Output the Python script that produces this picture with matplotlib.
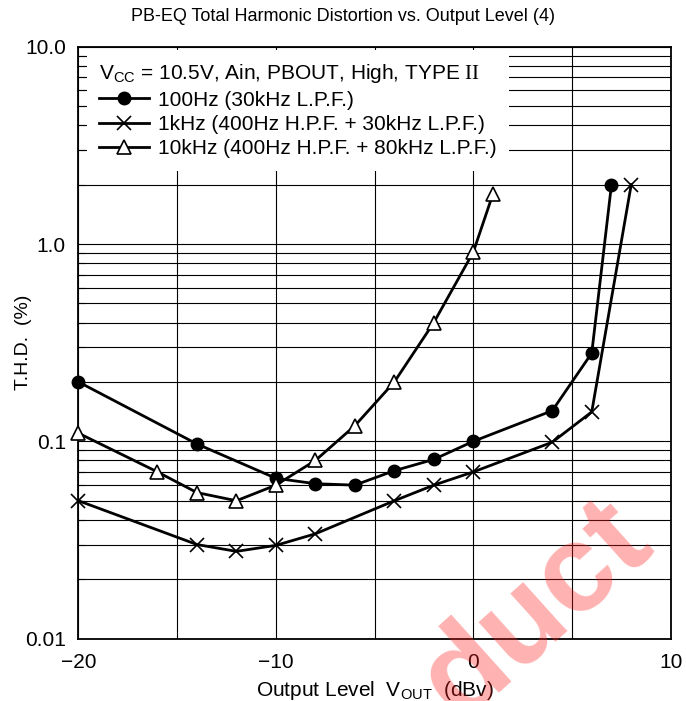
import matplotlib
matplotlib.use("Agg")
import matplotlib.pyplot as plt
from matplotlib.ticker import FixedLocator, LogLocator, NullFormatter, FixedFormatter

plt.rcParams['font.family'] = ['Liberation Sans', 'DejaVu Sans']
plt.rcParams['mathtext.fontset'] = 'custom'
plt.rcParams['mathtext.rm'] = 'Liberation Serif'
plt.rcParams['mathtext.sf'] = 'Liberation Sans'
plt.rcParams['axes.unicode_minus'] = True

# 100Hz (30kHz L.P.F.)
x_100 = [-20, -14, -10, -8, -6, -4, -2, 0, 4, 6, 7]
thd_100 = [0.2, 0.097, 0.065, 0.061, 0.060, 0.071, 0.081, 0.1, 0.143, 0.28, 2.0]

# 1kHz (400Hz H.P.F. + 30kHz L.P.F.)
x_1k = [-20, -14, -12, -10, -8, -4, -2, 0, 4, 6, 8]
thd_1k = [0.05, 0.030, 0.0277, 0.0297, 0.034, 0.050, 0.060, 0.070, 0.099, 0.141, 2.0]

# 10kHz (400Hz H.P.F. + 80kHz L.P.F.)
x_10k = [-20, -16, -14, -12, -10, -8, -6, -4, -2, 0, 1]
thd_10k = [0.11, 0.070, 0.055, 0.050, 0.060, 0.080, 0.12, 0.2, 0.4, 0.91, 1.8]

xticks = [-20, -10, 0, 10]
xtick_labels = ['\u221220', '\u221210', '0', '10']
yticks = [0.01, 0.1, 1.0, 10.0]
ytick_labels = ['0.01', '0.1', '1.0', '10.0']

fs = 15

fig = plt.figure(figsize=(6.86, 7.01), dpi=100)
ax = fig.add_axes([0.1144, 0.0889, 0.8633, 0.8445])

ax.set_yscale('log')
ax.set_xlim(-20, 10)
ax.set_ylim(0.01, 10)

ax.plot(x_100, thd_100, color='black', lw=2, marker='o', ms=9,
        mfc='black', mec='black', label='100Hz (30kHz L.P.F.)', zorder=3, clip_on=False)
ax.plot(x_1k, thd_1k, color='black', lw=2, marker='x', ms=10, mew=1.2,
        label='1kHz (400Hz H.P.F. + 30kHz L.P.F.)', zorder=3, clip_on=False)
ax.plot(x_10k, thd_10k, color='black', lw=2, marker='^', ms=10, mew=1.2,
        mfc='white', mec='black', label='10kHz (400Hz H.P.F. + 80kHz L.P.F.)', zorder=3, clip_on=False)

ax.xaxis.set_major_locator(FixedLocator(xticks))
ax.xaxis.set_major_formatter(FixedFormatter(xtick_labels))
ax.xaxis.set_minor_locator(FixedLocator([-15, -5, 5]))
ax.yaxis.set_major_locator(FixedLocator(yticks))
ax.yaxis.set_major_formatter(FixedFormatter(ytick_labels))
ax.yaxis.set_minor_locator(LogLocator(base=10, subs=range(2, 10)))
ax.yaxis.set_minor_formatter(NullFormatter())

ax.tick_params(axis='both', which='both', direction='in', labelsize=fs)
ax.tick_params(axis='x', which='both', length=0, pad=10)
ax.tick_params(axis='y', which='major', length=0, pad=9)
ax.tick_params(axis='y', which='minor', length=5, width=0.8)

ax.grid(True, which='both', color='black', lw=0.8)
ax.set_axisbelow(True)
for s in ax.spines.values():
    s.set_linewidth(1.3)

ax.set_xlabel(r'Output Level  V$_{\mathsf{OUT}}$  (dBv)', fontsize=fs)
ax.xaxis.set_label_coords(0.5, -0.068)
ax.set_ylabel('T.H.D.  (%)', fontsize=14)
ax.yaxis.set_label_coords(-0.079, 0.5)
fig.suptitle('PB-EQ Total Harmonic Distortion vs. Output Level (4)', fontsize=13, y=0.988)

leg = ax.legend(loc='upper left', bbox_to_anchor=(0, 1.0085),
                title=r'V$_{\mathsf{CC}}$ = 10.5V, Ain, PBOUT, High, TYPE $\mathrm{II}$',
                alignment='left', fontsize=fs, title_fontsize=fs,
                frameon=True, fancybox=False, edgecolor='none', facecolor='white', framealpha=1,
                handlelength=2.4, handletextpad=0.4, labelspacing=0.25,
                borderaxespad=0.4, borderpad=0.6)
leg.set_zorder(5)

# watermark, cut off at the bottom edge as in the source sheet
fig.text(0.782, 0.128, 'duct', fontsize=90, fontweight='bold', color='#ff2020', alpha=0.35,
         rotation=42, ha='center', va='center', zorder=10)

fig.savefig('out.png', dpi=100)
